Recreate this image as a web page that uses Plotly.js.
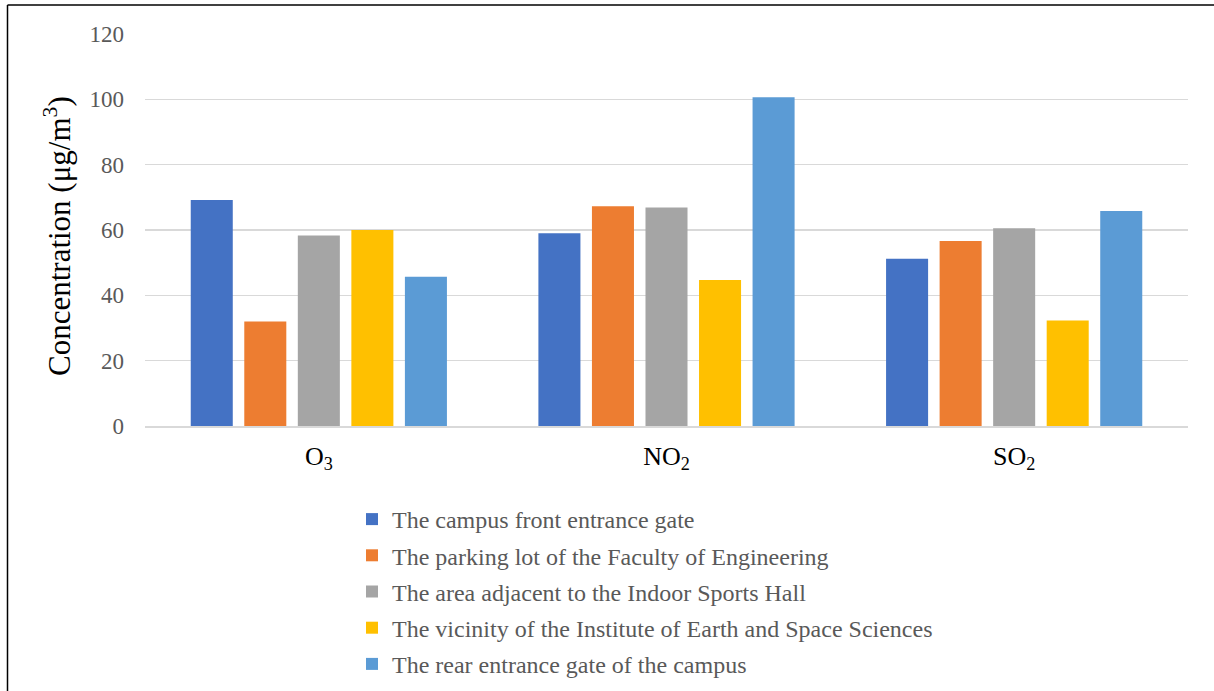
<!DOCTYPE html>
<html>
<head>
<meta charset="utf-8">
<script src="https://cdn.plot.ly/plotly-3.0.1.min.js"></script>
<style>
html,body{margin:0;padding:0;background:#fff;}
#chart{width:1214px;height:691px;}
</style>
</head>
<body>
<div id="chart"></div>
<script>
const categories = ["O<sub>3</sub>", "NO<sub>2</sub>", "SO<sub>2</sub>"];
const seriesNames = [
  "The campus front entrance gate",
  "The parking lot of the Faculty of Engineering",
  "The area adjacent to the Indoor Sports Hall",
  "The vicinity of the Institute of Earth and Space Sciences",
  "The rear entrance gate of the campus"
];
const frontGate = [69.2, 59.0, 51.2];
const parkingLot = [32.0, 67.3, 56.6];
const sportsHall = [58.3, 66.9, 60.5];
const earthSpace = [60.0, 44.7, 32.3];
const rearGate = [45.7, 100.6, 65.8];
const seriesValues = [frontGate, parkingLot, sportsHall, earthSpace, rearGate];
const colors = ["#4472C4", "#ED7D31", "#A5A5A5", "#FFC000", "#5B9BD5"];
const yTicks = [0, 20, 40, 60, 80, 100, 120];
const yTitle = "Concentration (μg/m<sup>3</sup>)";

const font = "Liberation Serif";

const traces = seriesValues.map((vals, i) => ({
  type: "bar",
  name: seriesNames[i],
  legendgroup: "g" + i,
  x: categories,
  y: vals,
  marker: {color: colors[i], line: {width: 0}},
  hoverinfo: "y"
}));

const L = 145, R = 1188, T = 34, B = 426;
const W = 1214, H = 691;
const px = v => (v - L) / (R - L);
const py = v => (B - v) / (B - T);

const layout = {
  width: W, height: H,
  margin: {l: L, r: W - R, t: T, b: H - B, autoexpand: false},
  paper_bgcolor: "#fff",
  plot_bgcolor: "#fff",
  barmode: "group",
  bargap: 0.23,
  bargroupgap: 0.215,
  font: {family: font, color: "#595959"},
  showlegend: true,
  legend: {
    orientation: "v",
    x: px(352), xanchor: "left",
    y: py(497), yanchor: "top",
    font: {family: font, size: 24, color: "#595959"},
    tracegroupgap: 2,
    bgcolor: "rgba(0,0,0,0)"
  },
  xaxis: {
    type: "category",
    tickfont: {family: font, size: 26, color: "#000"},
    showgrid: false,
    showline: true,
    linecolor: "#d9d9d9",
    linewidth: 1.5,
    ticks: "",
    ticklabelstandoff: 6,
    zeroline: false
  },
  yaxis: {
    range: [0, 120],
    tickvals: yTicks,
    ticktext: yTicks.map(String),
    tickfont: {family: font, size: 23, color: "#595959"},
    showgrid: true,
    gridcolor: "#d9d9d9",
    gridwidth: 1.5,
    zeroline: false,
    showline: false,
    ticks: "",
    ticklabelstandoff: 20
  },
  annotations: [{
    text: yTitle,
    xref: "paper", yref: "paper",
    x: px(57), y: py(236),
    xanchor: "center", yanchor: "middle",
    textangle: -90,
    showarrow: false,
    font: {family: font, size: 31, color: "#000"}
  }],
  shapes: [
    {type: "line", xref: "paper", yref: "paper", x0: px(7.5), x1: px(1214), y0: py(5), y1: py(5), line: {color: "#000", width: 1.5}},
    {type: "line", xref: "paper", yref: "paper", x0: px(7.5), x1: px(7.5), y0: py(5), y1: py(691), line: {color: "#000", width: 1.5}}
  ]
};

Plotly.newPlot("chart", traces, layout, {displayModeBar: false, staticPlot: true});
</script>
</body>
</html>
